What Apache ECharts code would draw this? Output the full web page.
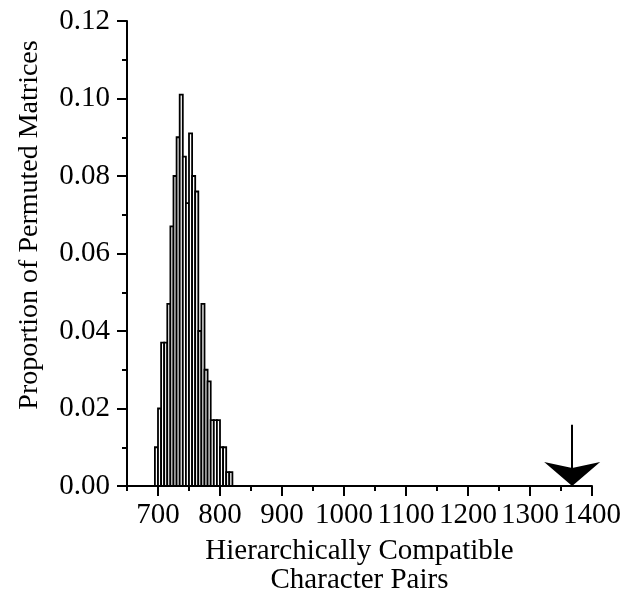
<!DOCTYPE html>
<html><head><meta charset="utf-8">
<script src="https://cdn.jsdelivr.net/npm/echarts@6/dist/echarts.min.js"></script>
<style>html,body{margin:0;padding:0;background:#fff}#c{width:621px;height:593px}</style>
</head><body><div id="c"></div>
<script>
const binStarts = [695,700,705,710,715,720,725,730,735,740,745,750,755,760,765,770,775,780,785,790,795,800,805,810,815];
const binWidth = 5;
const proportions = [0.010,0.020,0.037,0.037,0.047,0.067,0.080,0.090,0.101,0.085,0.073,0.091,0.080,0.076,0.040,0.047,0.030,0.027,0.017,0.017,0.017,0.010,0.010,0.0036,0.0036];
const observedValue = 1368;
const arrowTop = 0.0158;
const yTickLabels = ['0.00','0.02','0.04','0.06','0.08','0.10','0.12'];
const xTickLabels = ['700','800','900','1000','1100','1200','1300','1400'];
const xTitle = 'Hierarchically Compatible\nCharacter Pairs';
const yTitle = 'Proportion of Permuted Matrices';

const font = '"Liberation Serif", "Times New Roman", serif';
const chart = echarts.init(document.getElementById('c'), null, {renderer:'canvas'});
const data = binStarts.map((s,i)=>[s, s+binWidth, proportions[i]]);
const xMin = 650, xMax = 1400, xFirstTick = Number(xTickLabels[0]);
const plotLeft = 127, plotRight = 29;
const plotW = 621 - plotLeft - plotRight;
const majorLeft = plotLeft + plotW * (xFirstTick - xMin) / (xMax - xMin);
chart.setOption({
  animation:false,
  grid:[{left:plotLeft,right:plotRight,top:21,bottom:107,outerBoundsMode:'none',containLabel:false},
        {left:majorLeft,right:plotRight,top:21,bottom:107,outerBoundsMode:'none',containLabel:false}],
  xAxis:[{
    gridIndex:0,type:'value',min:xMin,max:xMax,interval:50,splitLine:{show:false},
    axisLine:{lineStyle:{color:'#000',width:2}},
    axisTick:{show:true,length:5,lineStyle:{color:'#000',width:2}},
    axisLabel:{show:false},
    name:xTitle,nameLocation:'middle',nameGap:51,
    nameTextStyle:{color:'#000',fontFamily:font,fontSize:29,lineHeight:29}
  },{
    gridIndex:1,type:'value',min:xFirstTick,max:xMax,interval:100,splitLine:{show:false},
    axisLine:{show:false},
    axisTick:{show:true,length:10,lineStyle:{color:'#000',width:2}},
    axisLabel:{color:'#000',fontFamily:font,fontSize:29,margin:15,showMaxLabel:true,hideOverlap:false,
      formatter:v=>xTickLabels.indexOf(String(v))>=0?String(v):''}
  }],
  yAxis:[{gridIndex:0,type:'value',min:0,max:0.12,interval:0.02,
    axisLine:{show:true,lineStyle:{color:'#000',width:2}},
    axisTick:{show:true,length:10,lineStyle:{color:'#000',width:2}},
    minorTick:{show:true,splitNumber:2,length:5,lineStyle:{color:'#000',width:2}},
    splitLine:{show:false},
    axisLabel:{color:'#000',fontFamily:font,fontSize:29,margin:17,formatter:v=>yTickLabels[Math.round(v/0.02)]}
  },{gridIndex:1,type:'value',min:0,max:0.12,show:false}],
  graphic:[{type:'text',x:30,y:225,rotation:Math.PI/2,
    style:{text:yTitle,fill:'#000',font:'28px '+font,textAlign:'center',textVerticalAlign:'middle'}}],
  series:[{
    type:'custom',xAxisIndex:0,yAxisIndex:0,
    data:data,
    encode:{x:[0,1],y:2},
    renderItem:function(params,api){
      const p0 = api.coord([api.value(0),0]);
      const p1 = api.coord([api.value(1),api.value(2)]);
      return {type:'rect',shape:{x:p0[0],y:p1[1],width:p1[0]-p0[0],height:p0[1]-p1[1]},
        style:{fill:'#fff',stroke:'#000',lineWidth:1.8}};
    }
  },{
    type:'line',data:[],xAxisIndex:0,yAxisIndex:0,
    markLine:{silent:true,symbol:['none','arrow'],symbolSize:[42,24],
      lineStyle:{color:'#000',width:2,type:'solid'},label:{show:false},
      data:[[{coord:[observedValue,arrowTop]},{coord:[observedValue,0]}]]}
  }]
});
</script></body></html>
